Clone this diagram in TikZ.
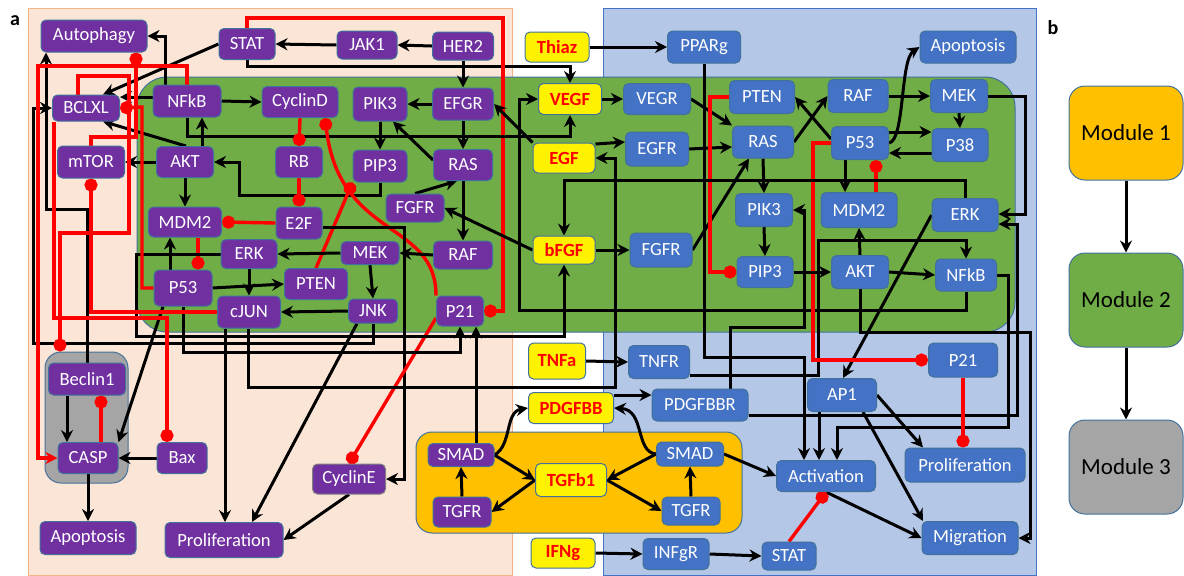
\documentclass[tikz,border=0pt]{standalone}
\usepackage{fontspec}
\setmainfont{Carlito}
\usetikzlibrary{arrows.meta,positioning,shapes}
\definecolor{peach}{HTML}{FBE5D6}
\definecolor{peachline}{HTML}{F4B183}
\definecolor{paleblue}{HTML}{B4C7E7}
\definecolor{midblue}{HTML}{4472C4}
\definecolor{edgeblue}{HTML}{41719C}
\definecolor{leaf}{HTML}{70AD47}
\definecolor{amber}{HTML}{FFC000}
\definecolor{stone}{HTML}{A5A5A5}
\definecolor{violet}{HTML}{7030A0}
\pgfdeclarelayer{bg}
\pgfdeclarelayer{edges}
\pgfsetlayers{bg,edges,main}

\begin{document}
\begin{tikzpicture}[x = 0.5pt, y = -0.5pt,
  sz/.style 2 args = {minimum width = #1*0.5pt, minimum height = #2*0.5pt},
  box/.style = {draw = edgeblue, line width = 0.5pt, rounded corners = 2.5pt, inner sep = 0pt, text = white, font = \fontsize{9.3}{11}\selectfont},
  pn/.style = {box, fill = violet},
  bn/.style = {box, fill = midblue},
  yn/.style = {box, fill = yellow, text = red, font = \fontsize{9.3}{11}\selectfont\bfseries},
  panel/.style = {draw = edgeblue, line width = 0.5pt, inner sep = 0pt},
  modbox/.style = {panel, rounded corners = 8pt, sz = {114}{94}, font = \fontsize{11.5}{13}\selectfont},
  arr/.style = {draw, line width = 1.5pt, -{Stealth[length = 6pt, width = 6pt]}},
  redarr/.style = {arr, draw = red, color = red, line width = 1.7pt},
  inh/.style = {draw = red, line width = 1.7pt, -{Circle[length = 6.5pt]}, color = red}]
\useasboundingbox (0,0) rectangle (1184,575);

\begin{pgfonlayer}{bg}
\node[panel, draw = peachline, fill = peach, sz = {484}{567}] (modA) at (270,291.5) {};
\node[panel, draw = midblue, fill = paleblue, sz = {433}{567}] (modR) at (819.5,291.5) {};
\node[panel, fill = leaf, rounded corners = 15pt, sz = {878}{255}] (modB) at (576,204.5) {};
\node[panel, fill = stone, rounded corners = 8pt, sz = {83}{131}] (modC) at (86.5,417.5) {};
\node[panel, fill = amber, rounded corners = 8pt, sz = {326}{101}] (modT) at (579,482.5) {};
\end{pgfonlayer}

\node[font = \fontsize{10}{12}\selectfont\bfseries] (lbla) at (15,21) {a};
\node[font = \fontsize{10}{12}\selectfont\bfseries] (lblb) at (1053,28) {b};

\node[pn, sz = {106}{32}] (autoph) at (94,36) {Autophagy};
\node[pn, sz = {56}{31}] (statL) at (247,44) {STAT};
\node[pn, sz = {60}{28}] (jak) at (367,45) {JAK1};
\node[pn, sz = {61}{28}] (her) at (463,46) {HER2};
\node[pn, sz = {67}{26}] (bclxl) at (86,108) {BCLXL};
\node[pn, sz = {68}{32}] (nfkbL) at (187,101) {NFkB};
\node[pn, sz = {76}{31}] (cycd) at (300,102) {CyclinD};
\node[pn, sz = {54}{34}] (pikL) at (380,104) {PIK3};
\node[pn, sz = {61}{32}] (efgr) at (463,104) {EFGR};
\node[pn, sz = {67}{32}] (mtor) at (91,162) {mTOR};
\node[pn, sz = {57}{31}] (aktL) at (185,162) {AKT};
\node[pn, sz = {47}{31}] (rb) at (299,162) {RB};
\node[pn, sz = {54}{32}] (pipL) at (380,166) {PIP3};
\node[pn, sz = {59}{31}] (rasL) at (463,165) {RAS};
\node[pn, sz = {58}{28}] (fgfrL) at (415,208) {FGFR};
\node[pn, sz = {73}{30}] (mdmL) at (185,222) {MDM2};
\node[pn, sz = {46}{32}] (etwof) at (299,223) {E2F};
\node[pn, sz = {56}{29}] (erkL) at (249,254) {ERK};
\node[pn, sz = {58}{23}] (mekL) at (370,253) {MEK};
\node[pn, sz = {59}{28}] (rafL) at (463,255) {RAF};
\node[pn, sz = {58}{36}] (pfsL) at (183,288) {P53};
\node[pn, sz = {63}{31}] (ptenL) at (316,284) {PTEN};
\node[pn, sz = {63}{32}] (cjun) at (249,312) {cJUN};
\node[pn, sz = {49}{24}] (jnk) at (373,311) {JNK};
\node[pn, sz = {47}{30}] (ptoL) at (460,311) {P21};
\node[pn, sz = {77}{32}] (beclin) at (87,379) {Beclin1};
\node[pn, sz = {60}{31}] (casp) at (88,458) {CASP};
\node[pn, sz = {50}{31}] (bax) at (182,458) {Bax};
\node[pn, sz = {96}{33}] (apoL) at (88,538) {Apoptosis};
\node[pn, sz = {118}{35}] (prolL) at (224,540) {Proliferation};
\node[pn, draw = gray, sz = {73}{30}] (cyce) at (349,479) {CyclinE};
\node[pn, sz = {66}{23}] (smadL) at (461,455) {SMAD};
\node[pn, sz = {58}{30}] (tgfrL) at (462,512) {TGFR};

\node[yn, sz = {64}{30}] (thiaz) at (557,47) {Thiaz};
\node[yn, sz = {63}{31}] (vegf) at (570,99) {VEGF};
\node[yn, sz = {62}{30}] (egf) at (564,158) {EGF};
\node[yn, sz = {62}{28}] (bfgf) at (564,250) {bFGF};
\node[yn, sz = {57}{36}] (tnfa) at (557,361) {TNFa};
\node[yn, sz = {85}{31}] (pdgfbb) at (571,408) {PDGFBB};
\node[yn, sz = {71}{33}] (tgfb) at (571,480) {TGFb1};
\node[yn, sz = {64}{30}] (ifng) at (563,553) {IFNg};

\node[bn, sz = {73}{32}] (pparg) at (704,47) {PPARg};
\node[bn, sz = {67}{31}] (vegr) at (657,99) {VEGR};
\node[bn, sz = {63}{34}] (egfrR) at (657,149) {EGFR};
\node[bn, sz = {62}{34}] (fgfrR) at (661,250) {FGFR};
\node[bn, sz = {61}{33}] (tnfr) at (659,362) {TNFR};
\node[bn, sz = {96}{32}] (pdgfbbr) at (700,405) {PDGFBBR};
\node[bn, sz = {65}{33}] (ptenR) at (762,97) {PTEN};
\node[bn, sz = {61}{32}] (rasR) at (763,142) {RAS};
\node[bn, sz = {57}{33}] (pikR) at (764,210) {PIK3};
\node[bn, sz = {56}{31}] (pipR) at (765,272) {PIP3};
\node[bn, sz = {60}{33}] (rafR) at (858,96) {RAF};
\node[bn, sz = {57}{33}] (mekR) at (959,96) {MEK};
\node[bn, sz = {57}{33}] (pfsR) at (860,143) {P53};
\node[bn, sz = {56}{33}] (pte) at (960,145) {P38};
\node[bn, sz = {96}{32}] (apoR) at (968,47) {Apoptosis};
\node[bn, sz = {76}{35}] (mdmR) at (859,210) {MDM2};
\node[bn, sz = {66}{33}] (erkR) at (965,215) {ERK};
\node[bn, sz = {57}{33}] (aktR) at (860,272) {AKT};
\node[bn, sz = {61}{32}] (nfkbR) at (966,275) {NFkB};
\node[bn, sz = {69}{34}] (ptoR) at (963,360) {P21};
\node[bn, sz = {69}{33}] (ap1) at (842,395) {AP1};
\node[bn, sz = {120}{34}] (prolR) at (965,465) {Proliferation};
\node[bn, sz = {99}{31}] (activ) at (826,476) {Activation};
\node[bn, sz = {96}{33}] (migr) at (970,538) {Migration};
\node[bn, sz = {54}{28}] (statR) at (789,556) {STAT};
\node[bn, sz = {66}{31}] (infgr) at (676,554) {INFgR};
\node[bn, sz = {67}{24}] (smadR) at (690,454) {SMAD};
\node[bn, sz = {58}{28}] (tgfrR) at (691,511) {TGFR};

\node[modbox, fill = amber] (mod1) at (1126,133) {Module 1};
\node[modbox, fill = leaf] (mod2) at (1126,300) {Module 2};
\node[modbox, fill = stone] (mod3) at (1126,467) {Module 3};

\begin{pgfonlayer}{edges}
\draw[arr] (her.west) -- (jak.east);
\draw[arr] (jak.west) -- (statL.east);
\draw[arr] (statL.west) -- (bclxl.north -| 103,0);
\draw[arr] (statL.south) |- (570,66) -- (vegf.north);
\draw[inh] (statL.north) |- (503,18) |- (ptoL.east);
\draw[arr] (her.south) -- (efgr.north);
\draw[arr] (nfkbL.north -| 165,0) |- (autoph.east);
\draw[arr] (nfkbL.west |- 0,97) -- (bclxl.east |- 0,97);
\draw[arr] (nfkbL.east) -- (cycd.west);
\draw[arr] (aktL.north -| 186,0) -- (bclxl.south -| 103,0);
\draw[arr] (aktL.north -| 202,0) -- (nfkbL.south -| 202,0);
\draw[arr] (aktL.west) -- (mtor.east);
\draw[arr] (aktL.south) -- (mdmL.north);
\draw[arr] (nfkbL.south) |- (570,136) -- (vegf.south);
\draw[arr] (pipL.south) |- (239,195) |- (aktL.east);
\draw[inh] (cycd.south) -- (rb.north);
\draw[inh] (rb.south) -- (etwof.north);
\draw[inh] (etwof.west) -- (mdmL.east);
\draw[inh] (ptoL.north west) .. controls (436,220) and (340,240) .. (cycd.south -| 325,0);
\draw[inh] (ptenL.north) -- (pipL.south west);
\draw[arr] (pikL.south) -- (pipL.north);
\draw[arr] (efgr.west) -- (pikL.east);
\draw[arr] (efgr.south) -- (rasL.north);
\draw[arr] (rasL.west |- 0,160) -- (pikL.south -| 393,0);
\draw[arr] (fgfrL.north) -- (rasL.south -| 457,0);
\draw[arr] (rasL.south) -- (rafL.north);
\draw[arr] (bfgf.west) -- (fgfrL.east);
\draw[arr] (egf.north west) -- (efgr.east);
\draw[arr] (rafL.west) -- (mekL.east);
\draw[arr] (mekL.west) -- (erkL.east);
\draw[arr] (mekL.south) -- (jnk.north);
\draw[arr] (jnk.west) -- (cjun.east);
\draw[arr] (erkL.south) -- (cjun.north);
\draw[arr] (pfsL.north -| 170,0) -- (mdmL.south -| 170,0);
\draw[inh] (mdmL.south -| 198,0) -- (pfsL.north -| 198,0);
\draw[arr] (pfsL.east) -- (ptenL.west);
\draw[arr] (etwof.east |- 0,227) -- (404,227) |- (cyce.east);
\draw[inh] (ptoL.west |- 0,318) -- (cyce.north);
\draw[arr] (cyce.south) -- (prolL.east);
\draw[arr] (cjun.south -| 225,0) -- (prolL.north -| 225,0);
\draw[arr] (jnk.south -| 357,0) -- (prolL.north -| 252,0);
\draw[arr] (pfsL.south -| 163,0) -- (casp.north east);
\draw[arr] (pfsL.south) |- (460,352) -- (ptoL.south);
\draw[arr] (smadL.north -| 476,0) -- (ptoL.south -| 476,0);
\draw[arr] (cjun.south -| 248,0) |- (615,387) |- (egf.east);
\draw[arr] (jnk.south) |- (33,343) |- (bclxl.west);
\draw[arr] (erkL.west) -| (136,336) -| (bfgf.south);
\draw[arr] (beclin.north) |- (46,209) -- (autoph.south -| 46,0);
\draw[redarr] (nfkbL.north) |- (38,66) |- (casp.west);
\draw[inh] (bclxl.south -| 54,0) |- (167,318) -- (bax.north -| 167,0);
\draw[inh] (cjun.west) -| (mtor.south);
\draw[inh] (mtor.north) |- (136,137) -- (autoph.south -| 136,0);
\draw[inh] (bclxl.north -| 78,0) |- (129,76) |- (60,233) -- (modC.north -| 60,0);
\draw[inh] (pfsL.west) -| (142,107) -- (bclxl.east);
\draw[inh] (casp.north -| 101,0) -- (beclin.south -| 101,0);
\draw[arr] (beclin.south -| 67,0) -- (casp.north -| 67,0);
\draw[arr] (bax.west) -- (casp.east);
\draw[arr] (casp.south) -- (apoL.north);

\draw[arr] (thiaz.east) -- (pparg.west);
\draw[arr] (vegf.east) -- (vegr.west);
\draw[arr] (vegr.east) -- (rasR.north west);
\draw[arr] (egf.east |- 0,144) -- (egfrR.west |- 0,142);
\draw[arr] (egfrR.east) -- (rasR.west |- 0,147);
\draw[arr] (bfgf.east) -- (fgfrR.west);
\draw[arr] (fgfrR.east) -- (rasR.south -| 749,0);
\draw[arr] (tnfa.east) -- (tnfr.west);
\draw[arr] (pdgfbb.east |- 0,395) -- (pdgfbbr.west |- 0,395);
\draw[arr] (nfkbR.south) |- (519,310) |- (vegf.west);
\draw[arr] (pdgfbbr.north -| 730,0) |- (804,327) |- (pikR.east);
\draw[arr] (pparg.south) |- (804,357) -- (activ.north -| 804,0);
\draw[arr] (ap1.south -| 819,0) -- (activ.north -| 819,0);
\draw[arr] (nfkbR.east) -| (1008,427) -| (activ.north -| 837,0);
\draw[arr] (tnfr.east |- 0,375) -| (818,240) -| (nfkbR.north);
\draw[arr] (pdgfbbr.east |- 0,415) -| (1017,224) -- (erkR.east |- 0,224);
\draw[arr] (mekR.east) -| (1025,214) -- (erkR.east |- 0,214);
\draw[arr] (aktR.south) |- (1030,332) |- (migr.east);
\draw[arr] (ap1.east) -- (prolR.north -| 923,0);
\draw[arr] (ap1.south -| 863,0) -- (migr.north -| 923,0);
\draw[arr] (activ.south) -- (migr.west);
\draw[inh] (statR.north) -- (activ.south);
\draw[arr] (infgr.east) -- (statR.west);
\draw[arr] (ifng.east) -- (infgr.west);
\draw[inh] (ptoR.south) -- (prolR.north -| 963,0);
\draw[arr] (erkR.west) -- (ap1.north -| 843,0);
\draw[inh] (pfsR.west) -| (813,360) -- (ptoR.west);
\draw[inh] (mdmR.north -| 876,0) -- (pfsR.south -| 876,0);
\draw[arr] (pfsR.south -| 845,0) -- (mdmR.north -| 845,0);
\draw[arr] (rasR.east) -- (rafR.west);
\draw[arr] (pfsR.west |- 0,139) -- (ptenR.east);
\draw[arr] (rafR.east) -- (mekR.west);
\draw[arr] (mekR.south) -- (pte.north);
\draw[arr] (pfsR.east |- 0,132) -- (pte.west |- 0,132);
\draw[arr] (pte.west |- 0,153) -- (pfsR.east |- 0,153);
\draw[arr] (pfsR.east |- 0,143) .. controls (905,140) and (900,60) .. (apoR.west);
\draw[inh] (ptenR.west) -| (710,272) -- (pipR.west);
\draw[arr] (rasR.south) -- (pikR.north);
\draw[arr] (pikR.south) -- (pipR.north);
\draw[arr] (pipR.east) -- (aktR.west);
\draw[arr] (aktR.north) -- (mdmR.south);
\draw[arr] (aktR.east) -- (nfkbR.west);
\draw[arr] (erkR.north) |- (564,180) -- (bfgf.north);

\draw[arr] (smadL.east) .. controls (512,445) and (505,412) .. (pdgfbb.west);
\draw[arr] (smadL.east) -- (tgfb.west);
\draw[arr] (tgfb.west) -- (tgfrL.east);
\draw[arr] (tgfrL.north) -- (smadL.south);
\draw[arr] (smadR.west) .. controls (635,452) and (645,410) .. (pdgfbb.east);
\draw[arr] (smadR.west) -- (tgfb.east);
\draw[arr] (tgfb.east) -- (tgfrR.west);
\draw[arr] (tgfrR.north) -- (smadR.south);
\draw[arr] (smadR.east) -- (activ.west);

\draw[arr] (mod1.south) -- (mod2.north);
\draw[arr] (mod2.south) -- (mod3.north);
\end{pgfonlayer}
\end{tikzpicture}
\end{document}
